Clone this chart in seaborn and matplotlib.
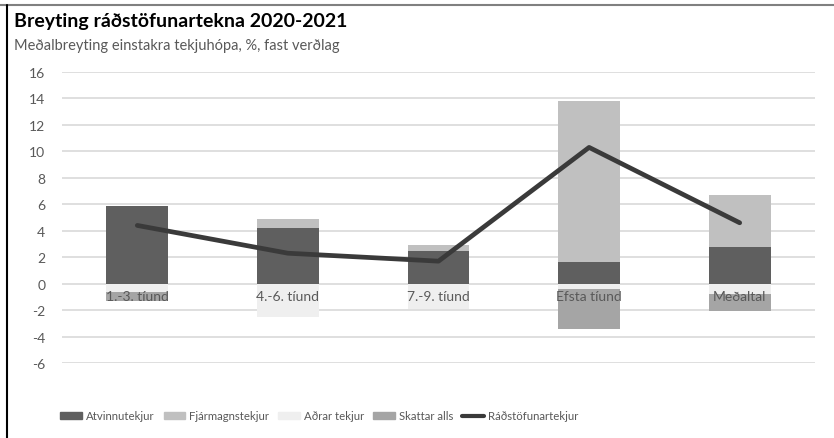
import numpy as np
import pandas as pd
import seaborn as sns
import matplotlib.pyplot as plt
from matplotlib.patches import Patch
from matplotlib.lines import Line2D

# Data
categories = ["1.-3. tíund", "4.-6. tíund", "7.-9. tíund", "Efsta tíund", "Meðaltal"]
atvinnutekjur = [5.9, 4.2, 2.5, 1.65, 2.8]
fjarmagnstekjur = [0.0, 0.7, 0.45, 12.15, 3.9]
adrar_tekjur = [-0.6, -2.5, -1.9, -0.4, -0.8]
skattar_alls = [-0.75, 0.0, 0.0, -3.05, -1.3]
radstofunartekjur = [4.4, 2.3, 1.7, 10.3, 4.6]
y_ticks = list(range(-6, 17, 2))

c_atv = "#5f5f5f"
c_fja = "#c0c0c0"
c_adr = "#efefef"
c_ska = "#a5a5a5"
c_line = "#3a3a3a"
c_text = "#595959"

sns.set_style("white")
plt.rcParams["font.family"] = ["Lato", "DejaVu Sans"]

df = pd.DataFrame({
    "flokkur": categories,
    "atv": atvinnutekjur,
    "fja": fjarmagnstekjur,
    "adr": adrar_tekjur,
    "ska": skattar_alls,
})

fig = plt.figure(figsize=(8.34, 4.39), dpi=100)
ax = fig.add_axes([62 / 834, 1 - 364 / 439, (815 - 62) / 834, (364 - 73) / 439])

w = 0.41
sns.barplot(data=df, x="flokkur", y="atv", color=c_atv, width=w, saturation=1, ax=ax, linewidth=0)
sns.barplot(data=df, x="flokkur", y="fja", color=c_fja, width=w, saturation=1, ax=ax,
            linewidth=0, bottom=np.array(atvinnutekjur))
sns.barplot(data=df, x="flokkur", y="adr", color=c_adr, width=w, saturation=1, ax=ax, linewidth=0)
sns.barplot(data=df, x="flokkur", y="ska", color=c_ska, width=w, saturation=1, ax=ax,
            linewidth=0, bottom=np.array(adrar_tekjur))
sns.lineplot(x=np.arange(len(categories)), y=radstofunartekjur, color=c_line, lw=3.4, ax=ax,
             zorder=5)

ax.set_ylim(-6, 16)
ax.set_xlim(-0.5, len(categories) - 0.5)
ax.set_yticks(y_ticks)
ax.set_yticklabels([str(t) for t in y_ticks], color=c_text, fontsize=10)
ax.tick_params(axis="y", length=0, pad=12)
ax.set_xticks([])
ax.set_xlabel("")
ax.set_ylabel("")
for s in ax.spines.values():
    s.set_visible(False)
ax.yaxis.grid(True, color="#d9d9d9", lw=1.2)
ax.set_axisbelow(True)

for i, lab in enumerate(categories):
    ax.text(i, -0.9, lab, ha="center", va="center", color=c_text, fontsize=10, zorder=6)

fig.text(14 / 834, 1 - 21 / 439, "Breyting ráðstöfunartekna 2020-2021", fontsize=14,
         fontweight="bold", color="#000000", va="center", ha="left")
fig.text(14 / 834, 1 - 46 / 439, "Meðalbreyting einstakra tekjuhópa, %, fast verðlag",
         fontsize=10.5, color=c_text, va="center", ha="left")

handles = [
    Patch(color=c_atv, label="Atvinnutekjur"),
    Patch(color=c_fja, label="Fjármagnstekjur"),
    Patch(color=c_adr, label="Aðrar tekjur"),
    Patch(color=c_ska, label="Skattar alls"),
    Line2D([], [], color=c_line, lw=3, label="Ráðstöfunartekjur"),
]
leg = fig.legend(handles=handles, loc="center left", bbox_to_anchor=(50 / 834, 1 - 417 / 439),
                 ncol=5, frameon=False, fontsize=8.2, handlelength=1.9, handleheight=0.6,
                 handletextpad=0.35, columnspacing=0.8, labelcolor=c_text)

# frame lines of the original image
fig.add_artist(Line2D([0, 1], [1 - 6 / 439] * 2, color="#808080", lw=1.5))
fig.add_artist(Line2D([7 / 834] * 2, [0, 1 - 6 / 439], color="#000000", lw=1.5))

fig.savefig("out.png", dpi=100)
